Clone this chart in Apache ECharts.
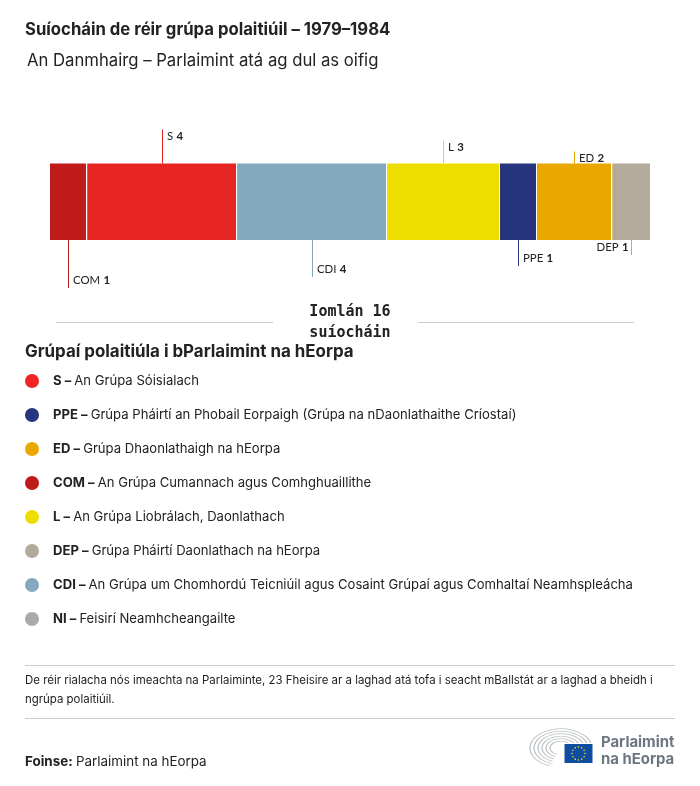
<!DOCTYPE html>
<html><head><meta charset="utf-8">
<style>html,body{margin:0;padding:0;background:#fff}#c{width:700px;height:786px}</style>
<script src="https://cdn.jsdelivr.net/npm/echarts@6/dist/echarts.min.js"></script>
</head><body><div id="c"></div>
<script>
const groups = ['COM','S','CDI','L','PPE','ED','DEP'];
const seats = [1,4,4,3,1,2,1];
const colors = ['#BF1B1B','#E62522','#84A9BE','#EEDE00','#27357E','#E8A800','#B3AA9C'];
const leaderTop = [false,true,false,true,false,true,false];
const leaderLen = [48,34,37,23,26,12,15];
const legendCodes = ['S','PPE','ED','COM','L','DEP','CDI','NI'];
const legendNames = ['An Grúpa Sóisialach','Grúpa Pháirtí an Phobail Eorpaigh (Grúpa na nDaonlathaithe Críostaí)','Grúpa Dhaonlathaigh na hEorpa','An Grúpa Cumannach agus Comhghuaillithe','An Grúpa Liobrálach, Daonlathach','Grúpa Pháirtí Daonlathach na hEorpa','An Grúpa um Chomhordú Teicniúil agus Cosaint Grúpaí agus Comhaltaí Neamhspleácha','Feisirí Neamhcheangailte'];
const legendColors = ['#EE2524','#27357E','#E8A800','#BF1B1B','#EEDE00','#B3AA9C','#84A9BE','#AAAAAA'];
const titleText = 'Suíocháin de réir grúpa polaitiúil – 1979–1984';
const subtitleText = 'An Danmhairg – Parlaimint atá ag dul as oifig';
const totalLines = 'Iomlán 16\nsuíocháin';
const legendTitle = 'Grúpaí polaitiúla i bParlaimint na hEorpa';
const noteLines = 'De réir rialacha nós imeachta na Parlaiminte, 23 Fheisire ar a laghad atá tofa i seacht mBallstát ar a laghad a bheidh i\nngrúpa polaitiúil.';

const F = 'Inter, "Noto Sans", sans-serif';
const INK = '#222222';
let cum = 0;
const leaderData = seats.map((v,i)=>{const mid = cum + v/2; cum += v; return [mid, i, cum];});

const barSeries = groups.map((g,i)=>({
  type:'bar', name:g, stack:'t', barWidth:'100%', data:[seats[i]],
  itemStyle:{color:colors[i]}, silent:true, animation:false
}));
const G = [];
const txt = (x,y,text,o={}) => G.push({type:'text',x,y,silent:true,style:Object.assign({text,fill:INK,font:'400 14px '+F,verticalAlign:'middle'},o)});
const rule = (x1,x2,y) => G.push({type:'line',silent:true,shape:{x1,y1:y,x2,y2:y},style:{stroke:'#CCCCCC',lineWidth:1}});
txt(25,29.5,titleText,{font:'700 16.7px '+F});
txt(27,60.5,subtitleText,{font:'400 16.7px '+F});
rule(56,273,322.5); rule(418,634,322.5);
G.push({type:'text',x:350,y:323,silent:true,style:{text:totalLines,align:'center',verticalAlign:'middle',fill:INK,font:'700 15px "DejaVu Sans Mono", monospace',lineHeight:21}});
txt(25,351.5,legendTitle,{font:'700 16.9px '+F});
legendCodes.forEach((c,i)=>{
  const y = 381 + i*34;
  G.push({type:'circle',silent:true,shape:{cx:32,cy:y,r:7},style:{fill:legendColors[i]}});
  G.push({type:'text',x:53,y,silent:true,style:{
    rich:{b:{font:'700 13.1px '+F,fill:INK},n:{font:'400 13.1px '+F,fill:INK}},
    text:'{b|'+c+' – }{n|'+legendNames[i]+'}',verticalAlign:'middle'}});
});
rule(25,675,665.5);
G.push({type:'text',x:25,y:690.5,silent:true,style:{text:noteLines,font:'400 11.45px '+F,fill:INK,lineHeight:19,verticalAlign:'middle'}});
rule(25,675,718.5);
G.push({type:'text',x:25,y:761.5,silent:true,style:{rich:{b:{font:'700 13.4px '+F,fill:INK},n:{font:'400 13.4px '+F,fill:INK}},text:'{b|Foinse:} {n|Parlaimint na hEorpa}',verticalAlign:'middle'}});
// logo
[31,27,23,19,15,11].forEach(r=>G.push({type:'arc',silent:true,scaleY:0.62,originX:561,originY:748,
  shape:{cx:561,cy:748,r,startAngle:Math.PI*0.62,endAngle:Math.PI*1.95},style:{stroke:'#BCC1C5',lineWidth:1.3,fill:null}}));
G.push({type:'rect',silent:true,shape:{x:564,y:743.5,width:29,height:20},style:{fill:'#0F4DA0',stroke:'#fff',lineWidth:1}});
for(let k=0;k<12;k++){const a=k*Math.PI/6;G.push({type:'circle',silent:true,shape:{cx:578.5+6.5*Math.cos(a),cy:753.5+6.5*Math.sin(a),r:0.8},style:{fill:'#F5D90A'}});}
G.push({type:'text',x:601,y:743,silent:true,style:{text:'Parlaimint',font:'700 14.9px '+F,fill:'#6D7680',verticalAlign:'middle'}});
G.push({type:'text',x:601,y:759.5,silent:true,style:{text:'na hEorpa',font:'700 14.9px '+F,fill:'#6D7680',verticalAlign:'middle'}});

const option = {
  backgroundColor:'#fff', animation:false,
  grid:{left:50,top:163.5,width:600,height:76.5},
  xAxis:{type:'value',min:0,max:16,show:false},
  yAxis:{type:'category',data:[''],show:false},
  graphic:{elements:G},
  series:[...barSeries,
   {type:'custom',silent:true,animation:false,z:5,clip:false,data:leaderData,
    encode:{x:0},
    renderItem:(p,api)=>{
      const i = api.value(1), x = Math.ceil(api.coord([api.value(0),0])[0])-0.5;
      const end = Math.floor(api.coord([api.value(2),0])[0])-0.5;
      const top = leaderTop[i], g = groups[i];
      const y0 = top ? 163.5 : 240;
      const y1 = top ? y0 - leaderLen[i] : y0 + leaderLen[i];
      const left = g==='DEP';
      const ly = top ? y1 + 6.5 : y1 - 7.5;
      const kids = [
        {type:'line',shape:{x1:x,y1:y0,x2:x,y2:y1},style:{stroke:colors[i],lineWidth:1}},
        {type:'text',x:left? x-3 : x+4.5,y:ly,style:{
          rich:{n:{font:'400 11.4px Lato, '+F,fill:INK},b:{font:'700 11.4px Lato, '+F,fill:INK}},
          text:'{n|'+g+'} {b|'+seats[i]+'}',verticalAlign:'middle',align:left?'right':'left'}}
      ];
      if(i<groups.length-1) kids.push({type:'line',shape:{x1:end,y1:163,x2:end,y2:240.5},style:{stroke:'#fff',lineWidth:1}});
      return {type:'group',children:kids};
    }}]
};
const chart = echarts.init(document.getElementById('c'),null,{renderer:'canvas'});
chart.setOption(option);
</script></body></html>
